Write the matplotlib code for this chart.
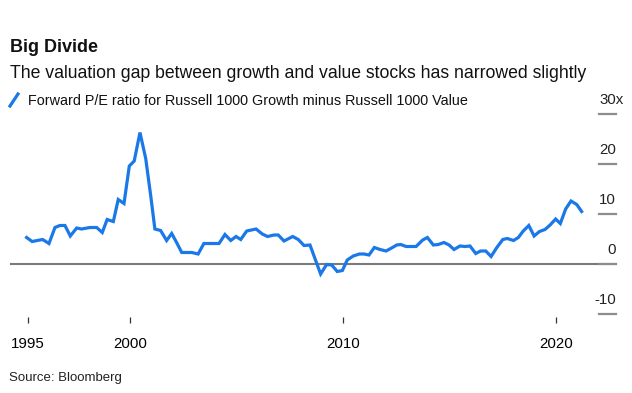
import matplotlib.pyplot as plt
from matplotlib.transforms import blended_transform_factory

plt.rcParams['font.family'] = ['Liberation Sans', 'DejaVu Sans']

# data (decimal years, P/E gap)
years = [1995.15, 1995.41, 1995.9, 1996.2, 1996.48, 1996.71, 1996.95, 1997.2, 1997.5, 1997.73,
         1998.12, 1998.44, 1998.7, 1998.93, 1999.22, 1999.45, 1999.72, 1999.97, 2000.2, 2000.47,
         2000.74, 2000.97, 2001.17, 2001.44, 2001.72, 2001.96, 2002.19, 2002.43, 2002.9, 2003.2,
         2003.47, 2004.18, 2004.46, 2004.73, 2004.98, 2005.2, 2005.48, 2005.92, 2006.21, 2006.46,
         2006.76, 2006.96, 2007.23, 2007.64, 2007.9, 2008.17, 2008.45, 2008.95, 2009.23, 2009.47,
         2009.73, 2009.97, 2010.2, 2010.48, 2010.77, 2010.98, 2011.22, 2011.47, 2011.74, 2012.02,
         2012.24, 2012.52, 2012.71, 2012.96, 2013.43, 2013.74, 2013.96, 2014.24, 2014.47, 2014.74,
         2014.98, 2015.21, 2015.49, 2015.73, 2015.96, 2016.23, 2016.46, 2016.7, 2016.95, 2017.22,
         2017.5, 2017.71, 2018.0, 2018.23, 2018.46, 2018.72, 2018.97, 2019.22, 2019.48, 2019.72,
         2019.98, 2020.2, 2020.45, 2020.7, 2020.97, 2021.2]
gap = [5.3, 4.5, 4.9, 4.1, 7.3, 7.7, 7.7, 5.6, 7.2, 7.0,
       7.3, 7.3, 6.3, 8.9, 8.5, 12.9, 12.1, 19.6, 20.6, 26.3,
       21.1, 13.8, 7.0, 6.7, 4.7, 6.1, 4.3, 2.3, 2.3, 2.0,
       4.1, 4.1, 5.9, 4.7, 5.5, 4.9, 6.6, 7.0, 6.0, 5.5,
       5.8, 5.8, 4.6, 5.5, 4.9, 3.7, 3.8, -2.0, -0.1, -0.2,
       -1.5, -1.3, 0.8, 1.6, 2.0, 2.0, 1.8, 3.3, 2.9, 2.6,
       3.1, 3.8, 3.9, 3.5, 3.5, 4.8, 5.3, 3.8, 3.9, 4.3,
       3.8, 2.9, 3.6, 3.5, 3.6, 2.1, 2.6, 2.6, 1.5, 3.3,
       4.9, 5.1, 4.7, 5.3, 6.6, 7.7, 5.6, 6.5, 6.9, 7.8,
       9.0, 8.1, 11.0, 12.6, 11.9, 10.5]

x_ticks = [1995.2, 2000, 2010, 2020]
x_labels = ['1995', '2000', '2010', '2020']
y_ticks = [30, 20, 10, 0, -10]
y_labels = ['30x', '20', '10', '0', '-10']

blue = '#1a78e8'
fig = plt.figure(figsize=(6.32, 3.93), dpi=100)
ax = fig.add_axes([10/632, 0.1934, 607/632, 0.5292])

ax.plot(years, gap, color=blue, lw=2.3, solid_joinstyle='miter', zorder=3)
ax.axhline(0, color='#7a7a7a', lw=1.5, zorder=2)
ax.set_xlim(1994.37, 2022.86)
ax.set_ylim(-10.6, 31)

for s in ax.spines.values():
    s.set_visible(False)
ax.set_yticks([])
ax.set_xticks(x_ticks)
ax.set_xticklabels(x_labels)
ax.tick_params(axis='x', length=4.3, width=0.9, color='#333333', pad=10, labelsize=10.8)

# right side value markers
tr = blended_transform_factory(ax.transAxes, ax.transData)
for v, lab in zip(y_ticks, y_labels):
    ax.plot([0.971, 0.9985], [v, v], color='#8c8c8c', lw=1.6, transform=tr, clip_on=False)
    if lab.endswith('x'):
        ax.annotate(lab, (0.971, v), xycoords=tr, xytext=(0, 5), textcoords='offset points',
                    ha='left', va='bottom', fontsize=10.8, color='#222222')
    else:
        ax.annotate(lab, (0.9985, v), xycoords=tr, xytext=(0, 5), textcoords='offset points',
                    ha='right', va='bottom', fontsize=10.8, color='#222222')

fig.text(10/632, 1 - 52/393, 'Big Divide', fontsize=13, fontweight='bold', color='#111111')
fig.text(10/632, 1 - 78/393, 'The valuation gap between growth and value stocks has narrowed slightly',
         fontsize=12.7, color='#111111')
fig.add_artist(plt.Line2D([10/632, 18/632], [1 - 106/393, 1 - 94/393], color=blue, lw=2.3))
fig.text(28/632, 1 - 105/393, 'Forward P/E ratio for Russell 1000 Growth minus Russell 1000 Value',
         fontsize=10.35, color='#111111')
fig.text(9/632, 1 - 381/393, 'Source: Bloomberg', fontsize=9.5, color='#222222')

fig.savefig('out.png', dpi=100)
